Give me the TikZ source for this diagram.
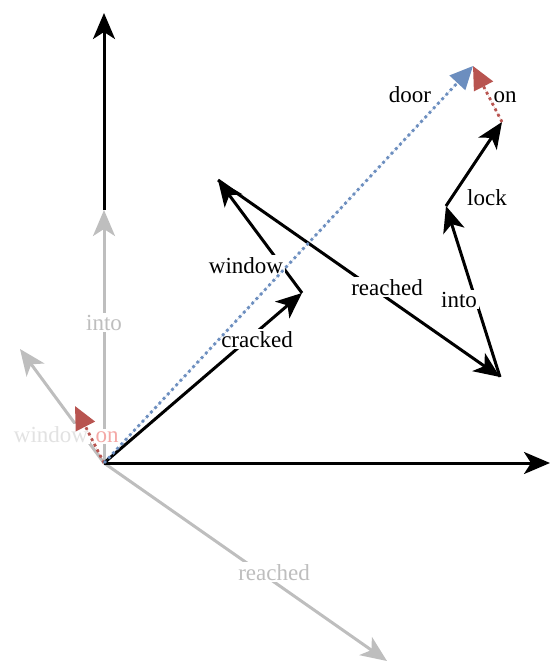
\documentclass[tikz,border=0pt]{standalone}
\usepackage{fontspec}
\setmainfont{Liberation Serif}
\usetikzlibrary{arrows.meta}

\definecolor{ghostgray}{RGB}{190,190,190}
\definecolor{fadegray}{RGB}{226,226,226}
\definecolor{vecblue}{RGB}{108,142,191}
\definecolor{vecred}{RGB}{184,84,80}
\definecolor{fadered}{RGB}{244,168,166}

\begin{document}
\begin{tikzpicture}[x=1pt,y=-1pt]
      \tikzset{
  vec/.style={-{Stealth[length=26pt,width=22pt,inset=7pt]}, line width=3pt},
  ghost/.style={vec, draw=ghostgray},
  dotvec/.style={-{Triangle[length=23pt,width=21pt]}, line width=2.8pt,
    dash pattern=on 2.8pt off 3.4pt},
  lbl/.style={fill=white, inner sep=2pt, anchor=base,
    font=\fontsize{23}{27}\selectfont},
}
\useasboundingbox (0,0) rectangle (550,662);

%% ---- POINTS ----
\coordinate (origin) at (104,463);
\coordinate (xend)   at (550,463);
\coordinate (ytop)   at (104,13);
\coordinate (gInto)  at (104,210);
\coordinate (gWin)   at (20,349);
\coordinate (gReach) at (387,661);
\coordinate (gOn)    at (75,406);
\coordinate (pCrack) at (302,293);
\coordinate (pWin)   at (218,180);
\coordinate (pReach) at (500,377);
\coordinate (pInto)  at (446,206);
\coordinate (pLock)  at (502,122);
\coordinate (pOn)    at (473,66);

%% ---- GHOST VECTORS AT ORIGIN ----
\draw[ghost] (origin) -- (gInto);
\draw[ghost] (origin) -- (gWin);
\draw[ghost] (origin) -- (gReach);
\node[lbl, text=ghostgray] (lgInto)  at (104,330) {into};
\node[lbl, text=ghostgray] (lgReach) at (274,580) {reached};

%% ---- AXES ----
\draw[vec] (origin) -- (xend);
\draw[vec] (gInto) -- (ytop);

%% ---- FADED LABELS ----
\node[lbl, text=fadegray] (lgWin) at (51,442) {window};
\node[lbl, text=fadered]  (lgOn)  at (107,442) {on};
\draw[dotvec, draw=vecred, fill=vecred] (origin) -- (gOn);

%% ---- WORD CHAIN ----
\draw[vec] (origin) -- (pCrack);
\draw[vec] (pCrack) -- (pWin);
\draw[vec] (pWin)   -- (pReach);
\draw[vec] (pReach) -- (pInto);
\draw[vec] (pInto)  -- (pLock);

\node[lbl] (lCrack) at (257,347) {cracked};
\node[lbl] (lWin)   at (246,273) {window};
\node[lbl] (lReach) at (387,295) {reached};
\node[lbl] (lInto)  at (459,307) {into};
\node[lbl] (lLock)  at (487,205) {lock};
\node[lbl] (lDoor)  at (410,102) {door};
\node[lbl] (lOn)    at (505,102) {on};

%% ---- DOTTED RESULT VECTORS ----
\draw[dotvec, draw=vecred, fill=vecred] (pLock) -- (pOn);
\draw[dotvec, draw=vecblue, fill=vecblue] (origin) -- (pOn);

    \end{tikzpicture}
\end{document}
